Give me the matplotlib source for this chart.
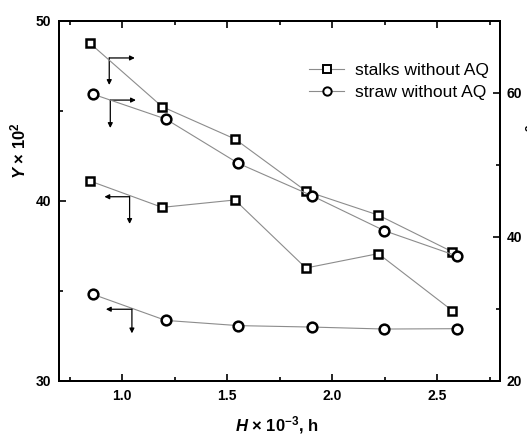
import matplotlib as mpl
mpl.use('Agg')
import matplotlib.pyplot as plt
from matplotlib.lines import Line2D

plt.rcParams['font.family'] = ['Liberation Sans', 'DejaVu Sans']
plt.rcParams['mathtext.fontset'] = 'custom'
plt.rcParams['mathtext.rm'] = 'Liberation Sans:bold'
plt.rcParams['mathtext.it'] = 'Liberation Sans:italic:bold'
plt.rcParams['mathtext.bf'] = 'Liberation Sans:bold'

# data
x_stalks = [0.845, 1.19, 1.537, 1.875, 2.22, 2.573]
stalks_left = [41.1, 39.63, 40.04, 36.26, 37.06, 33.89]
stalks_right = [66.9, 58.06, 53.57, 46.35, 43.0, 37.9]

x_straw = [0.86, 1.207, 1.553, 1.903, 2.249, 2.597]
straw_left = [34.8, 33.35, 33.06, 32.98, 32.87, 32.89]
straw_right = [59.8, 56.35, 50.19, 45.7, 40.83, 37.3]

labels = ['stalks without AQ', 'straw without AQ']

W, H = 527, 436
fig = plt.figure(figsize=(W / 100, H / 100), dpi=100)
ax = fig.add_axes([59.3 / W, 1 - 380.7 / H, (500 - 59.3) / W, 360 / H])
ax2 = ax.twinx()

line_kw = dict(color='#8c8c8c', lw=0.8, mec='black', mfc='white', mew=1.8)
ax.plot(x_stalks, stalks_left, marker='s', ms=6.4, **line_kw)
ax.plot(x_straw, straw_left, marker='o', ms=7.0, **line_kw)
ax2.plot(x_stalks, stalks_right, marker='s', ms=6.4, **line_kw)
ax2.plot(x_straw, straw_right, marker='o', ms=7.0, **line_kw)

ax.set_xlim(0.7, 2.8)
ax.set_ylim(30, 50)
ax2.set_ylim(20, 70)

ax.set_xticks([1.0, 1.5, 2.0, 2.5])
ax.set_xticks([0.75, 1.25, 1.75, 2.25, 2.75], minor=True)
ax.set_yticks([30, 40, 50])
ax.set_yticks([35, 45], minor=True)
ax2.set_yticks([20, 40, 60])
ax2.set_yticks([30, 50], minor=True)

ax.tick_params(which='both', direction='in', top=True, right=False, width=1.2)
ax.tick_params(which='major', length=5, labelsize=10, pad=6)
ax.tick_params(which='minor', length=3)
ax2.tick_params(which='both', direction='in', width=1.2)
ax2.tick_params(which='major', length=5, labelsize=10, pad=5)
ax2.tick_params(which='minor', length=3)
for a in (ax, ax2):
    for lab in a.get_xticklabels() + a.get_yticklabels():
        lab.set_fontweight('bold')
    for s in a.spines.values():
        s.set_linewidth(1.4)

# arrows pointing to the axis each curve belongs to
arr = dict(arrowstyle='-|>', color='black', lw=0.9, mutation_scale=7,
           shrinkA=0, shrinkB=0)
corners = [((0.938, 47.93), 1.06, 46.43),
           ((0.943, 45.59), 1.065, 44.04),
           ((1.035, 40.22), 0.915, 38.71),
           ((1.046, 33.97), 0.922, 32.63)]
for (cx, cy), xend, yend in corners:
    ax.annotate('', xy=(xend, cy), xytext=(cx, cy), arrowprops=arr)
    ax.annotate('', xy=(cx, yend), xytext=(cx, cy), arrowprops=arr)

# legend
handles = [Line2D([], [], color='#8c8c8c', lw=0.8, marker='s', ms=5.5,
                  mec='black', mfc='white', mew=1.4),
           Line2D([], [], color='#8c8c8c', lw=0.8, marker='o', ms=6,
                  mec='black', mfc='white', mew=1.4)]
fig.legend(handles, labels, loc='upper left',
           bbox_to_anchor=(309 / W, 1 - 63 / H), frameon=False,
           fontsize=12.6, handlelength=2.0, handletextpad=0.65,
           labelspacing=0.36, borderaxespad=0, borderpad=0)

fig.text(18 / W, 1 - 151 / H, r'$\mathit{Y}$ × 10$^{2}$',
         rotation=90, ha='center', va='center', fontsize=12,
         fontweight='bold')
fig.text(277 / W, 1 - 431 / H, r'$\mathit{H}$ × 10$^{-3}$, h',
         ha='center', va='baseline', fontsize=12, fontweight='bold')
# right axis title, almost all of it outside the picture as in the source
fig.text(524.5 / W, 1 - 181 / H, r'$\mathit{A}$ × 10$^{2}$', rotation=90,
         ha='left', va='bottom', fontsize=12, fontweight='bold')

fig.savefig('out.png', dpi=100)
